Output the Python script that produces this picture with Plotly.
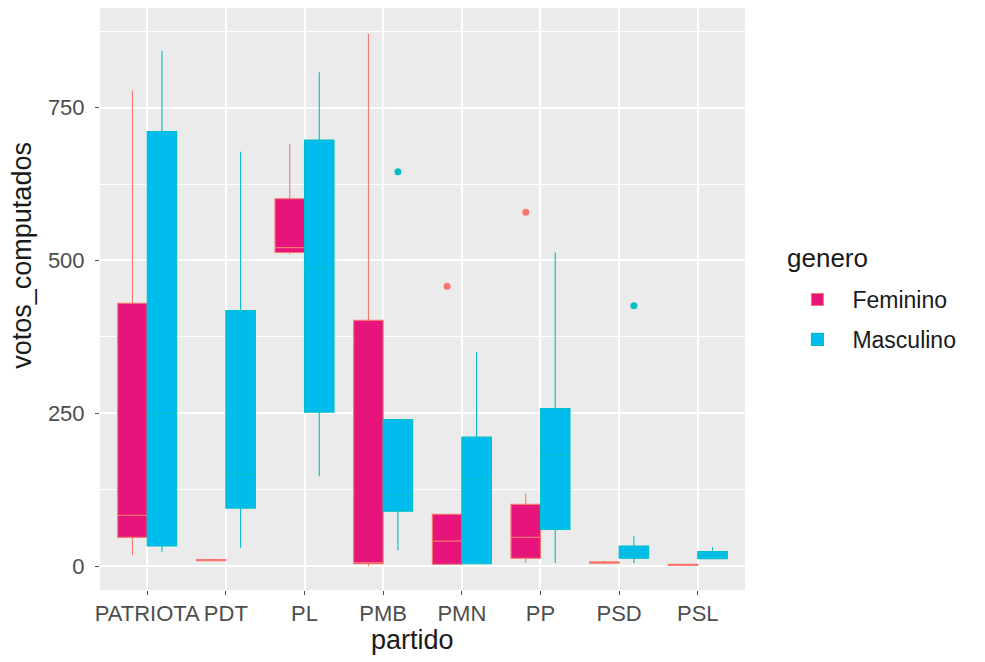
import plotly.graph_objects as go

partidos = ["PATRIOTA", "PDT", "PL", "PMB", "PMN", "PP", "PSD", "PSL"]
generos = ["Feminino", "Masculino"]

# Feminino box stats
fem_lo  = [18, 8, 510, 0, 2, 5, 3, 0]
fem_q1  = [47, 9, 513, 4, 3, 13, 5, 1]
fem_med = [83, 10, 521, 6, 41, 47, 6, 2]
fem_q3  = [430, 11, 601, 402, 85, 101, 7, 3]
fem_hi  = [778, 12, 691, 871, 85, 119, 9, 3]

# Masculino box stats
mas_lo  = [23, 30, 147, 26, 3, 5, 5, 12]
mas_q1  = [33, 95, 252, 90, 4, 60, 13, 12]
mas_med = [250, 150, 487, 116, 143, 181, 20, 18]
mas_q3  = [711, 418, 697, 240, 211, 258, 33, 24]
mas_hi  = [843, 678, 808, 240, 350, 513, 49, 31]

# Outliers (partido index, value)
fem_out_idx = [4, 5]
fem_out_val = [458, 579]
mas_out_idx = [3, 6]
mas_out_val = [645, 426]

fill = {"Feminino": "#E6147B", "Masculino": "#00BDEE"}
line = {"Feminino": "#F8766D", "Masculino": "#00BFC4"}
offset = {"Feminino": -0.1875, "Masculino": 0.1875}

stats = {
    "Feminino": (fem_lo, fem_q1, fem_med, fem_q3, fem_hi),
    "Masculino": (mas_lo, mas_q1, mas_med, mas_q3, mas_hi),
}
outs = {
    "Feminino": (fem_out_idx, fem_out_val),
    "Masculino": (mas_out_idx, mas_out_val),
}

fig = go.Figure()
for g in generos:
    lo, q1, med, q3, hi = stats[g]
    xs = [i + offset[g] for i in range(len(partidos))]
    fig.add_trace(go.Box(
        x=xs, q1=q1, median=med, q3=q3, lowerfence=lo, upperfence=hi,
        name=g, legendgroup=g, width=0.375,
        fillcolor=fill[g], line=dict(color=line[g], width=1.1),
        whiskerwidth=0, boxpoints=False,
    ))
    oi, ov = outs[g]
    fig.add_trace(go.Scatter(
        x=[i + offset[g] for i in oi], y=ov, mode="markers",
        marker=dict(color=line[g], size=7), legendgroup=g, showlegend=False,
    ))

font = "Liberation Sans, Arial, sans-serif"
fig.update_layout(
    width=985, height=662,
    margin=dict(l=92, r=248, t=0, b=80),
    paper_bgcolor="white", plot_bgcolor="#EBEBEB",
    boxmode="overlay",
    font=dict(family=font, color="#4D4D4D"),
    legend=dict(
        font=dict(size=23, color="#1A1A1A"),
        x=1.058, xanchor="left", y=0.536, yanchor="top",
        bgcolor="rgba(0,0,0,0)", tracegroupgap=7, itemwidth=60,
    ),
    annotations=[
        dict(text="votos_computados", xref="paper", yref="paper",
             x=-0.121, y=0.576, xanchor="center", yanchor="middle",
             textangle=-90, showarrow=False,
             font=dict(size=27, color="#1A1A1A")),
        dict(text="partido", xref="paper", yref="paper",
             x=0.484, y=-0.086, xanchor="center", yanchor="middle",
             showarrow=False, font=dict(size=27, color="#1A1A1A")),
        dict(text="genero", xref="paper", yref="paper",
             x=1.062, y=0.570, xanchor="left", yanchor="middle",
             showarrow=False, font=dict(size=26, color="#1A1A1A")),
    ],
)
fig.update_xaxes(
    range=[-0.6, 7.6], tickmode="array",
    tickvals=list(range(len(partidos))), ticktext=partidos,
    tickangle=0, showgrid=True, gridcolor="white", gridwidth=1.5,
    zeroline=False, ticks="outside", ticklen=4, tickcolor="#4D4D4D",
    tickfont=dict(size=22, color="#4D4D4D"), automargin=False,
)
fig.update_yaxes(
    range=[-39, 913], tickmode="array", tickvals=[0, 250, 500, 750],
    showgrid=True, gridcolor="white", gridwidth=1.5, zeroline=False,
    ticks="outside", ticklen=4, tickcolor="#4D4D4D", ticklabelstandoff=6,
    tickfont=dict(size=22, color="#4D4D4D"), automargin=False,
    minor=dict(tickmode="array", tickvals=[125, 375, 625, 875], showgrid=True,
               gridcolor="white", gridwidth=0.6, ticks=""),
)

fig.write_html("out.html")
